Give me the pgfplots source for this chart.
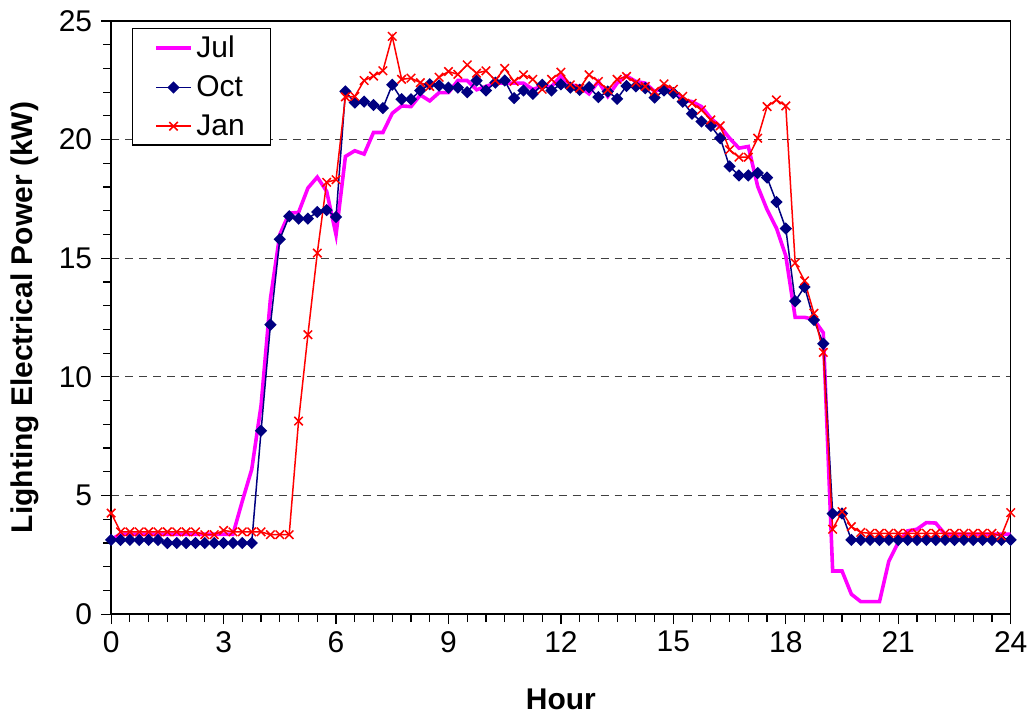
\documentclass[border=0pt]{standalone}
\usepackage{pgfplots}
\pgfplotsset{compat=1.18}
\usepackage{fontspec}
\setmainfont{Liberation Sans}
\definecolor{julc}{RGB}{255,0,255}
\definecolor{octc}{RGB}{0,0,128}
\definecolor{janc}{RGB}{255,0,0}
\newcommand{\fs}{\fontsize{15}{18}\selectfont}
\begin{document}
\begin{tikzpicture}
\begin{axis}[
  scale only axis, width=450.35pt, height=297pt,
  xmin=0, xmax=24, ymin=0, ymax=25,
  xtick={0,3,...,24}, minor x tick num=5,
  ytick={0,5,...,25}, minor y tick num=4,
  tick align=outside, tick pos=left,
  major tick length=5pt, minor tick length=4pt,
  every tick/.style={black, line width=0.6pt},
  ymajorgrids, grid style={black!75, dash pattern=on 4pt off 3pt, line width=0.5pt},
  axis line style={black, line width=0.8pt},
  tick label style={font=\fs},
  yticklabel style={xshift=-1pt},
  /pgf/number format/assume math mode=true,
  xlabel={Hour}, ylabel={Lighting Electrical Power (kW)},
  every axis x label/.style={at={(axis description cs:0.5,-0.143)}, anchor=center, font=\fs\bfseries},
  every axis y label/.style={at={(axis description cs:-0.0958,0.5)}, rotate=90, anchor=center, font=\fs\bfseries},
  legend style={at={(rel axis cs:0.0233,0.9877)}, anchor=north west, font=\fs,
    draw=black, line width=0.6pt, inner xsep=11pt, inner ysep=1.5pt, row sep=3.5pt,
    cells={anchor=west}},
  legend cell align=left,
]
\addplot[julc, line width=1.8pt, no markers] coordinates {
(0,3.15)(0.25,3.37)(0.5,3.37)(0.75,3.37)(1,3.37)(1.25,3.37)(1.5,3.37)(1.75,3.37)
(2,3.37)(2.25,3.37)(2.5,3.37)(2.75,3.37)(3,3.37)(3.25,3.37)(3.5,4.77)(3.75,6.1)
(4,8.8)(4.25,13.3)(4.5,16.0)(4.75,16.9)(5,16.93)(5.25,17.96)(5.5,18.42)(5.75,17.82)
(6,15.99)(6.25,19.29)(6.5,19.53)(6.75,19.39)(7,20.3)(7.25,20.3)(7.5,21.11)(7.75,21.42)
(8,21.39)(8.25,21.88)(8.5,21.63)(8.75,21.98)(9,21.98)(9.25,22.49)(9.5,22.49)(9.75,22.1)
(10,22.24)(10.25,22.38)(10.5,22.38)(10.75,22.38)(11,22.38)(11.25,22.12)(11.5,22.24)(11.75,22.24)
(12,22.68)(12.25,22.31)(12.5,22.24)(12.75,21.93)(13,22.45)(13.25,21.82)(13.5,22.38)(13.75,22.68)
(14,22.45)(14.25,22.38)(14.5,22.03)(14.75,22.17)(15,22.1)(15.25,21.67)(15.5,21.6)(15.75,21.39)
(16,20.9)(16.25,20.55)(16.5,20.06)(16.75,19.64)(17,19.71)(17.25,18.03)(17.5,17.05)(17.75,16.27)
(18,15.1)(18.25,12.51)(18.5,12.51)(18.75,12.42)(19,11.86)(19.25,1.82)(19.5,1.82)(19.75,0.84)
(20,0.53)(20.25,0.53)(20.5,0.53)(20.75,2.24)(21,3.02)(21.25,3.51)(21.5,3.58)(21.75,3.86)
(22,3.84)(22.25,3.37)(22.5,3.37)(22.75,3.37)(23,3.37)(23.25,3.37)(23.5,3.37)(23.75,3.37)(24,3.37)
};
\addlegendentry{Jul}
\addplot[octc, line width=0.75pt, mark=square*, mark size=1.8pt, mark options={rotate=45, fill=octc}] coordinates {
(0,3.13)(0.25,3.13)(0.5,3.13)(0.75,3.13)(1,3.13)(1.25,3.13)(1.5,3.0)(1.75,3.0)
(2,3.0)(2.25,3.0)(2.5,3.0)(2.75,3.0)(3,3.0)(3.25,3.0)(3.5,3.0)(3.75,3.0)
(4,7.73)(4.25,12.2)(4.5,15.8)(4.75,16.77)(5,16.67)(5.25,16.67)(5.5,16.95)(5.75,17.03)
(6,16.74)(6.25,22.03)(6.5,21.56)(6.75,21.6)(7,21.46)(7.25,21.33)(7.5,22.31)(7.75,21.7)
(8,21.7)(8.25,22.07)(8.5,22.33)(8.75,22.28)(9,22.19)(9.25,22.19)(9.5,22.0)(9.75,22.49)
(10,22.07)(10.25,22.4)(10.5,22.49)(10.75,21.75)(11,22.07)(11.25,21.93)(11.5,22.31)(11.75,22.07)
(12,22.33)(12.25,22.19)(12.5,22.1)(12.75,22.21)(13,21.79)(13.25,22.03)(13.5,21.72)(13.75,22.26)
(14,22.24)(14.25,22.17)(14.5,21.77)(14.75,22.07)(15,21.96)(15.25,21.6)(15.5,21.09)(15.75,20.76)
(16,20.58)(16.25,20.06)(16.5,18.87)(16.75,18.49)(17,18.49)(17.25,18.59)(17.5,18.4)(17.75,17.37)
(18,16.25)(18.25,13.19)(18.5,13.79)(18.75,12.4)(19,11.4)(19.25,4.24)(19.5,4.24)(19.75,3.13)
(20,3.13)(20.25,3.13)(20.5,3.13)(20.75,3.13)(21,3.13)(21.25,3.13)(21.5,3.13)(21.75,3.13)
(22,3.13)(22.25,3.13)(22.5,3.13)(22.75,3.13)(23,3.13)(23.25,3.13)(23.5,3.13)(23.75,3.13)(24,3.13)
};
\addlegendentry{Oct}
\addplot[janc, line width=0.75pt, mark=x, mark size=3pt, mark options={line width=0.75pt}] coordinates {
(0,4.26)(0.25,3.47)(0.5,3.47)(0.75,3.47)(1,3.47)(1.25,3.47)(1.5,3.47)(1.75,3.47)
(2,3.47)(2.25,3.47)(2.5,3.35)(2.75,3.35)(3,3.53)(3.25,3.47)(3.5,3.47)(3.75,3.47)
(4,3.47)(4.25,3.35)(4.5,3.35)(4.75,3.35)(5,8.14)(5.25,11.78)(5.5,15.22)(5.75,18.2)
(6,18.31)(6.25,21.8)(6.5,21.82)(6.75,22.49)(7,22.68)(7.25,22.9)(7.5,24.35)(7.75,22.54)
(8,22.59)(8.25,22.4)(8.5,22.24)(8.75,22.63)(9,22.87)(9.25,22.75)(9.5,23.15)(9.75,22.8)
(10,22.9)(10.25,22.5)(10.5,23.0)(10.75,22.45)(11,22.73)(11.25,22.54)(11.5,22.12)(11.75,22.54)
(12,22.84)(12.25,22.31)(12.5,22.17)(12.75,22.73)(13,22.45)(13.25,22.1)(13.5,22.54)(13.75,22.66)
(14,22.4)(14.25,22.24)(14.5,22.03)(14.75,22.35)(15,22.12)(15.25,21.82)(15.5,21.53)(15.75,21.25)
(16,20.83)(16.25,20.58)(16.5,19.57)(16.75,19.26)(17,19.26)(17.25,20.06)(17.5,21.39)(17.75,21.67)
(18,21.42)(18.25,14.8)(18.5,14.05)(18.75,12.68)(19,11.03)(19.25,3.58)(19.5,4.32)(19.75,3.69)
(20,3.45)(20.25,3.41)(20.5,3.41)(20.75,3.41)(21,3.41)(21.25,3.41)(21.5,3.41)(21.75,3.41)
(22,3.41)(22.25,3.41)(22.5,3.41)(22.75,3.41)(23,3.41)(23.25,3.41)(23.5,3.41)(23.75,3.3)(24,4.28)
};
\addlegendentry{Jan}
\end{axis}
\path (current axis.south west) ++(-55.65pt,-52pt) rectangle ([xshift=11pt,yshift=10.5pt]current axis.north east);
\end{tikzpicture}
\end{document}
